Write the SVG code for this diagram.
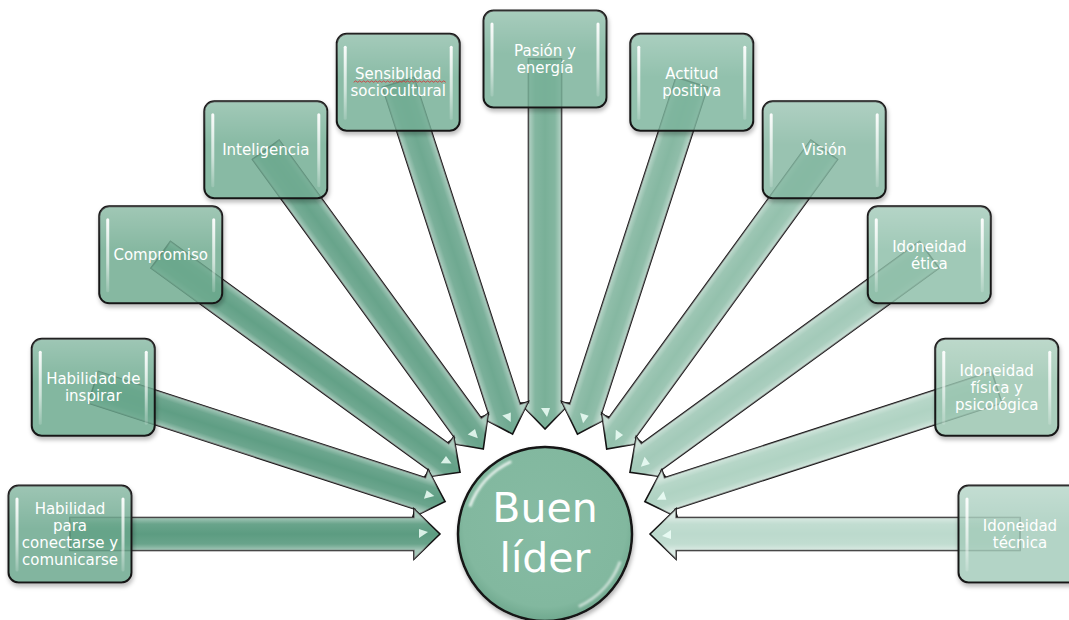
<svg xmlns="http://www.w3.org/2000/svg" width="1069" height="620" viewBox="0 0 1069 620">
  <style>
    .arr { stroke: #111; stroke-width: 1.6; stroke-linejoin: miter; }
    .box { stroke: #161616; stroke-width: 2; fill-opacity: 0.82; }
    .lbl { font-family: "DejaVu Sans", "Liberation Sans", sans-serif; font-size: 15px; fill: #ffffff; text-anchor: middle; }
    .big { font-family: "DejaVu Sans", "Liberation Sans", sans-serif; font-size: 41px; fill: #ffffff; text-anchor: middle; }
  </style>
  <defs>
    <!-- block arrow, pointing at the hub from its tail at r=475 -->
    <path id="arrowShape" d="M105,0 L131,-25 L131,-16.5 L475,-16.5 L475,16.5 L131,16.5 L131,25 Z"/>
    <linearGradient id="edgeGlow" gradientUnits="userSpaceOnUse" x1="0" y1="-16.5" x2="0" y2="16.5">
      <stop offset="0" stop-color="#ffffff" stop-opacity="0.45"/>
      <stop offset="0.2" stop-color="#ffffff" stop-opacity="0.08"/>
      <stop offset="0.5" stop-color="#ffffff" stop-opacity="0"/>
      <stop offset="0.8" stop-color="#ffffff" stop-opacity="0.08"/>
      <stop offset="1" stop-color="#ffffff" stop-opacity="0.45"/>
    </linearGradient>
    <linearGradient id="strip" x1="0" y1="0" x2="0" y2="1">
      <stop offset="0" stop-color="#ffffff" stop-opacity="0.95"/>
      <stop offset="0.6" stop-color="#ffffff" stop-opacity="0.6"/>
      <stop offset="1" stop-color="#ffffff" stop-opacity="0.15"/>
    </linearGradient>
    <linearGradient id="sheen" x1="0" y1="0" x2="0" y2="1">
      <stop offset="0" stop-color="#ffffff" stop-opacity="0.22"/>
      <stop offset="0.45" stop-color="#ffffff" stop-opacity="0"/>
    </linearGradient>
    <radialGradient id="hubFill" cx="0.5" cy="0.45" r="0.55">
      <stop offset="0" stop-color="#86bba3"/>
      <stop offset="0.85" stop-color="#82b89f"/>
      <stop offset="1" stop-color="#6fa88e"/>
    </radialGradient>
    <filter id="shadow" x="-10%" y="-10%" width="125%" height="130%">
      <feGaussianBlur in="SourceAlpha" stdDeviation="2"/>
      <feOffset dx="1" dy="3" result="b"/>
      <feFlood flood-color="#000" flood-opacity="0.3"/>
      <feComposite in2="b" operator="in" result="s"/>
      <feComposite in="s" in2="SourceAlpha" operator="out" result="so"/>
      <feMerge><feMergeNode in="so"/><feMergeNode in="SourceGraphic"/></feMerge>
    </filter>
    <filter id="soft" x="-20%" y="-20%" width="140%" height="140%">
      <feGaussianBlur stdDeviation="1.2"/>
    </filter>
    <rect id="boxRect" width="123" height="97" rx="10"/>
    <g id="boxGloss">
      <rect x="0" y="0" width="123" height="97" rx="10" fill="url(#sheen)"/>
      <rect x="7" y="12" width="3" height="74" rx="1.5" fill="url(#strip)"/>
      <rect x="113" y="12" width="3" height="74" rx="1.5" fill="url(#strip)"/>
    </g>
    <g id="tipGloss">
      <path d="M117,2 L126,-4 L126,5 Z" fill="#effff8" fill-opacity="0.85"/>
    </g>
  </defs>

  <rect width="1069" height="620" fill="#ffffff"/>

  <!-- connectors: drawn from the top one outwards so the lower ones sit on top -->
  <g id="connectors">
    <g transform="translate(545,534) rotate(270)"><use href="#arrowShape" class="arr" fill="#79b098"/><use href="#arrowShape" fill="url(#edgeGlow)"/><use href="#tipGloss"/></g>
    <g transform="translate(545,534) rotate(252)"><use href="#arrowShape" class="arr" fill="#6fa991"/><use href="#arrowShape" fill="url(#edgeGlow)"/><use href="#tipGloss"/></g>
    <g transform="translate(545,534) rotate(288)"><use href="#arrowShape" class="arr" fill="#86b8a2"/><use href="#arrowShape" fill="url(#edgeGlow)"/><use href="#tipGloss"/></g>
    <g transform="translate(545,534) rotate(234)"><use href="#arrowShape" class="arr" fill="#68a48b"/><use href="#arrowShape" fill="url(#edgeGlow)"/><use href="#tipGloss"/></g>
    <g transform="translate(545,534) rotate(306)"><use href="#arrowShape" class="arr" fill="#94c1ad"/><use href="#arrowShape" fill="url(#edgeGlow)"/><use href="#tipGloss"/></g>
    <g transform="translate(545,534) rotate(216)"><use href="#arrowShape" class="arr" fill="#63a187"/><use href="#arrowShape" fill="url(#edgeGlow)"/><use href="#tipGloss"/></g>
    <g transform="translate(545,534) rotate(324)"><use href="#arrowShape" class="arr" fill="#a3cab9"/><use href="#arrowShape" fill="url(#edgeGlow)"/><use href="#tipGloss"/></g>
    <g transform="translate(545,534) rotate(198)"><use href="#arrowShape" class="arr" fill="#5f9e84"/><use href="#arrowShape" fill="url(#edgeGlow)"/><use href="#tipGloss"/></g>
    <g transform="translate(545,534) rotate(342)"><use href="#arrowShape" class="arr" fill="#b0d3c3"/><use href="#arrowShape" fill="url(#edgeGlow)"/><use href="#tipGloss"/></g>
    <g transform="translate(545,534) rotate(180)"><use href="#arrowShape" class="arr" fill="#5c9c81"/><use href="#arrowShape" fill="url(#edgeGlow)"/><use href="#tipGloss"/></g>
    <g transform="translate(545,534) rotate(360)"><use href="#arrowShape" class="arr" fill="#bcdacd"/><use href="#arrowShape" fill="url(#edgeGlow)"/><use href="#tipGloss"/></g>
  </g>

  <!-- hub -->
  <g id="hub">
    <circle cx="545" cy="534" r="87" fill="url(#hubFill)" stroke="#161616" stroke-width="2.5" filter="url(#shadow)"/>
    <path d="M469.8,506.6 A80,80 0 0 1 511.2,461.5" fill="none" stroke="#ffffff" stroke-width="3" stroke-opacity="0.8" filter="url(#soft)"/>
    <path d="M620.2,561.4 A80,80 0 0 1 578.8,606.5" fill="none" stroke="#ffffff" stroke-width="3" stroke-opacity="0.6" filter="url(#soft)"/>
    <text class="big" x="545" y="522">Buen</text>
    <text class="big" x="545" y="572">líder</text>
  </g>

  <!-- surrounding nodes -->
  <g id="n-comunicarse" transform="translate(8.5,485.5)">
    <use href="#boxRect" class="box" fill="#68a68b" filter="url(#shadow)"/><use href="#boxGloss"/>
    <text class="lbl"><tspan x="61.5" y="28.5">Habilidad</tspan><tspan x="61.5" y="45.5">para</tspan><tspan x="61.5" y="62.5">conectarse y</tspan><tspan x="61.5" y="79.5">comunicarse</tspan></text>
  </g>
  <g id="n-inspirar" transform="translate(31.75,338.72)">
    <use href="#boxRect" class="box" fill="#6aa88d" filter="url(#shadow)"/><use href="#boxGloss"/>
    <text class="lbl"><tspan x="61.5" y="45.5">Habilidad de</tspan><tspan x="61.5" y="62.5">inspirar</tspan></text>
  </g>
  <g id="n-compromiso" transform="translate(99.22,206.3)">
    <use href="#boxRect" class="box" fill="#6ca98f" filter="url(#shadow)"/><use href="#boxGloss"/>
    <text class="lbl" x="61.5" y="54">Compromiso</text>
  </g>
  <g id="n-inteligencia" transform="translate(204.3,101.22)">
    <use href="#boxRect" class="box" fill="#70ac92" filter="url(#shadow)"/><use href="#boxGloss"/>
    <text class="lbl" x="61.5" y="54">Inteligencia</text>
  </g>
  <g id="n-sensibilidad" transform="translate(336.72,33.75)">
    <use href="#boxRect" class="box" fill="#74ae95" filter="url(#shadow)"/><use href="#boxGloss"/>
    <text class="lbl"><tspan x="61.5" y="45.5">Sensiblidad</tspan><tspan x="61.5" y="62.5">sociocultural</tspan></text>
    <path d="M17,48.5l2,-1.4l2,1.4l2,-1.4l2,1.4l2,-1.4l2,1.4l2,-1.4l2,1.4l2,-1.4l2,1.4l2,-1.4l2,1.4l2,-1.4l2,1.4l2,-1.4l2,1.4l2,-1.4l2,1.4l2,-1.4l2,1.4l2,-1.4l2,1.4l2,-1.4l2,1.4l2,-1.4l2,1.4l2,-1.4l2,1.4l2,-1.4l2,1.4l2,-1.4l2,1.4l2,-1.4l2,1.4l2,-1.4l2,1.4l2,-1.4l2,1.4l2,-1.4l2,1.4l2,-1.4l2,1.4l2,-1.4l2,1.4l2,-1.4l2,1.4" fill="none" stroke="#d23a3a" stroke-width="0.9"/>
  </g>
  <g id="n-pasion" transform="translate(483.5,10.5)">
    <use href="#boxRect" class="box" fill="#78b199" filter="url(#shadow)"/><use href="#boxGloss"/>
    <text class="lbl"><tspan x="61.5" y="45.5">Pasión y</tspan><tspan x="61.5" y="62.5">energía</tspan></text>
  </g>
  <g id="n-actitud" transform="translate(630.28,33.75)">
    <use href="#boxRect" class="box" fill="#7db49c" filter="url(#shadow)"/><use href="#boxGloss"/>
    <text class="lbl"><tspan x="61.5" y="45.5">Actitud</tspan><tspan x="61.5" y="62.5">positiva</tspan></text>
  </g>
  <g id="n-vision" transform="translate(762.7,101.22)">
    <use href="#boxRect" class="box" fill="#84b8a1" filter="url(#shadow)"/><use href="#boxGloss"/>
    <text class="lbl" x="61.5" y="54">Visión</text>
  </g>
  <g id="n-etica" transform="translate(867.78,206.3)">
    <use href="#boxRect" class="box" fill="#8dbea8" filter="url(#shadow)"/><use href="#boxGloss"/>
    <text class="lbl"><tspan x="61.5" y="45.5">Idoneidad</tspan><tspan x="61.5" y="62.5">ética</tspan></text>
  </g>
  <g id="n-fisica" transform="translate(935.25,338.72)">
    <use href="#boxRect" class="box" fill="#98c4b0" filter="url(#shadow)"/><use href="#boxGloss"/>
    <text class="lbl"><tspan x="61.5" y="37">Idoneidad</tspan><tspan x="61.5" y="54">física y</tspan><tspan x="61.5" y="71">psicológica</tspan></text>
  </g>
  <g id="n-tecnica" transform="translate(958.5,485.5)">
    <use href="#boxRect" class="box" fill="#a5ccbb" filter="url(#shadow)"/><use href="#boxGloss"/>
    <text class="lbl"><tspan x="61.5" y="45.5">Idoneidad</tspan><tspan x="61.5" y="62.5">técnica</tspan></text>
  </g>
</svg>
